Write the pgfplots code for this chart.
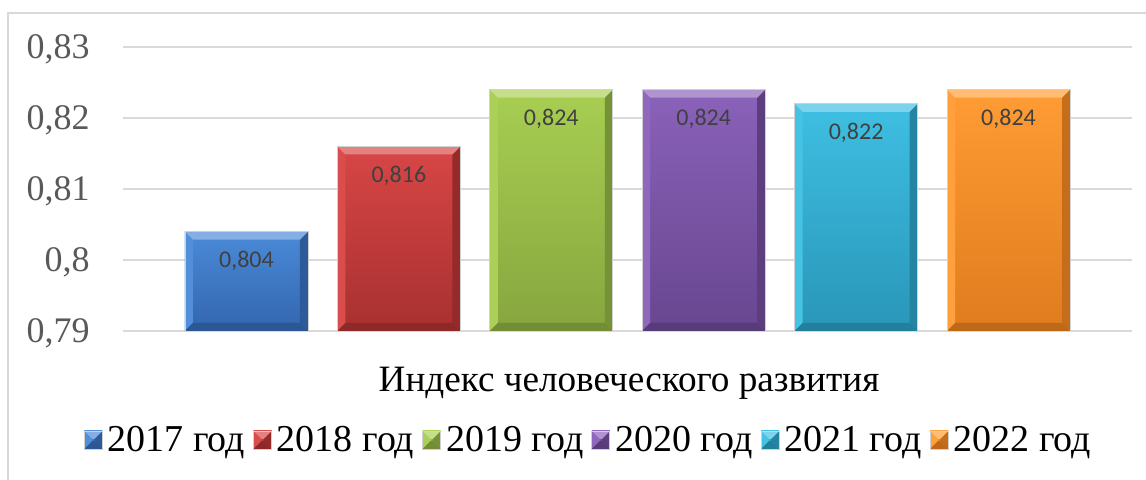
\documentclass[border=0pt]{standalone}
\usepackage{fontspec}
\setmainfont{Liberation Serif}
\newfontfamily\calibri{Carlito}
\usepackage{pgfplots}
\pgfplotsset{compat=1.18}
\definecolor{gridgray}{HTML}{D9D9D9}
\definecolor{tickgray}{HTML}{595959}
\definecolor{labgray}{HTML}{404040}
\definecolor{bluet}{HTML}{4A8AD8}\definecolor{blueb}{HTML}{3366AE}
\definecolor{redt}{HTML}{D84646}\definecolor{redb}{HTML}{A83030}
\definecolor{greent}{HTML}{A8CE52}\definecolor{greenb}{HTML}{86A63E}
\definecolor{purplet}{HTML}{8A62BA}\definecolor{purpleb}{HTML}{68468F}
\definecolor{cyant}{HTML}{3EBFE2}\definecolor{cyanb}{HTML}{2996B8}
\definecolor{oranget}{HTML}{FF9C34}\definecolor{orangeb}{HTML}{E07C1E}
\newdimen\bvb \bvb=4pt
\newcommand\bvquad[5]{% color, then 4 points
  \pgfsetfillcolor{#1}%
  \pgfpathmoveto{#2}\pgfpathlineto{#3}\pgfpathlineto{#4}\pgfpathlineto{#5}\pgfpathclose
  \pgfusepath{fill}}
\newcommand\bevelpic[2]{%
  \pgfpointanchor{path picture bounding box}{south west}\pgfgetlastxy{\bvxa}{\bvya}%
  \pgfpointanchor{path picture bounding box}{north east}\pgfgetlastxy{\bvxb}{\bvyb}%
  \ifdim\bvxa<\bvxb\relax
  \ifdim\bvya<\bvyb\relax
  \ifdim\bvxa>-5000pt\relax
  \ifdim\bvxb<5000pt\relax
  \ifdim\bvya>-5000pt\relax
  \ifdim\bvyb<5000pt\relax
  \ifdim\dimexpr\bvxb-\bvxa\relax>8pt\relax
  \ifdim\dimexpr\bvyb-\bvya\relax>8pt\relax
  \bvquad{#1!96!white}{\pgfqpoint{\bvxa}{\bvyb}}{\pgfqpoint{\dimexpr\bvxa+\bvb}{\dimexpr\bvyb-\bvb}}%
     {\pgfqpoint{\dimexpr\bvxa+\bvb}{\dimexpr\bvya+\bvb}}{\pgfqpoint{\bvxa}{\bvya}}%
  \bvquad{#2!88!black}{\pgfqpoint{\bvxb}{\bvyb}}{\pgfqpoint{\dimexpr\bvxb-\bvb}{\dimexpr\bvyb-\bvb}}%
     {\pgfqpoint{\dimexpr\bvxb-\bvb}{\dimexpr\bvya+\bvb}}{\pgfqpoint{\bvxb}{\bvya}}%
  \bvquad{#2!85!black}{\pgfqpoint{\bvxa}{\bvya}}{\pgfqpoint{\dimexpr\bvxa+\bvb}{\dimexpr\bvya+\bvb}}%
     {\pgfqpoint{\dimexpr\bvxb-\bvb}{\dimexpr\bvya+\bvb}}{\pgfqpoint{\bvxb}{\bvya}}%
  \bvquad{#1!68!white}{\pgfqpoint{\bvxa}{\bvyb}}{\pgfqpoint{\bvxb}{\bvyb}}%
     {\pgfqpoint{\dimexpr\bvxb-\bvb}{\dimexpr\bvyb-\bvb}}{\pgfqpoint{\dimexpr\bvxa+\bvb}{\dimexpr\bvyb-\bvb}}%
  \fi\fi\fi\fi\fi\fi\fi\fi
}
\tikzset{
  bevel/.style n args={2}{
    top color=#1, bottom color=#2, draw=black!18, line width=0.4pt,
    path picture={\bevelpic{#1}{#2}}
  }
}
\begin{document}
\begin{tikzpicture}
\path[use as bounding box] (0,0) rectangle (573pt,240pt);
\draw[gridgray, line width=1pt] (4pt,-2pt) -- (4pt,233.5pt) -- (576pt,233.5pt);
\begin{axis}[
  at={(61.5pt,74.5pt)}, anchor=south west,
  width=504.5pt, height=142pt, scale only axis,
  xmin=-0.81, xmax=5.81, ymin=0, ymax=0.04,
  y filter/.expression={y-0.79},
  ytick={0,0.01,0.02,0.03,0.04},
  yticklabels={{0,79},{0,8},{0,81},{0,82},{0,83}},
  scaled y ticks=false,
  xtick=\empty,
  ymajorgrids, major grid style={gridgray, line width=1pt},
  axis line style={draw=none},
  major tick length=0pt,
  yticklabel style={font=\fontsize{18}{22}\selectfont, text=tickgray, anchor=east, inner sep=0pt, xshift=-16.5pt, text depth=0pt},
  xlabel={Индекс человеческого развития},
  xlabel style={at={(axis description cs:0.5015,-0.2148)}, anchor=base, font=\fontsize{18.6}{22}\selectfont, inner sep=0pt},
  legend columns=6,
  legend style={draw=none, fill=none, at={(axis description cs:0.4628,-0.3838)}, anchor=center,
    font=\fontsize{19}{22}\selectfont, nodes={inner sep=2.5pt},
    /tikz/every even column/.append style={column sep=1.5pt}},
  legend image code/.code={\path[#1] (0pt,-4.5pt) rectangle (9pt,4.5pt);},
]
\addplot[ybar, bar shift=0pt, bar width=0.807, bevel={bluet}{blueb}] coordinates {(0,0.804)};
\addlegendentry{2017 год}
\addplot[ybar, bar shift=0pt, bar width=0.807, bevel={redt}{redb}] coordinates {(1,0.816)};
\addlegendentry{2018 год}
\addplot[ybar, bar shift=0pt, bar width=0.807, bevel={greent}{greenb}] coordinates {(2,0.824)};
\addlegendentry{2019 год}
\addplot[ybar, bar shift=0pt, bar width=0.807, bevel={purplet}{purpleb}] coordinates {(3,0.824)};
\addlegendentry{2020 год}
\addplot[ybar, bar shift=0pt, bar width=0.807, bevel={cyant}{cyanb}] coordinates {(4,0.822)};
\addlegendentry{2021 год}
\addplot[ybar, bar shift=0pt, bar width=0.807, bevel={oranget}{orangeb}] coordinates {(5,0.824)};
\addlegendentry{2022 год}
\addplot[draw=none, forget plot, point meta=explicit symbolic, nodes near coords,
  every node near coord/.append style={font=\calibri\fontsize{12}{14}\selectfont, text=labgray, anchor=center, text depth=0pt, yshift=-14pt}]
  coordinates {(0,0.804) [0,804] (1,0.816) [0,816] (2,0.824) [0,824] (3,0.824) [0,824] (4,0.822) [0,822] (5,0.824) [0,824]};
\end{axis}
\end{tikzpicture}
\end{document}
